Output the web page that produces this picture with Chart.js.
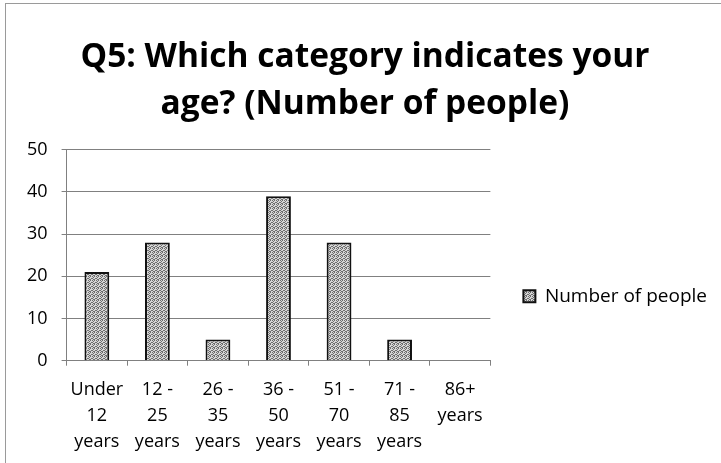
<!DOCTYPE html>
<html>
<head>
<meta charset="utf-8">
<script src="https://cdn.jsdelivr.net/npm/chart.js@4.4.0/dist/chart.umd.min.js"></script>
<style>
  html, body { margin: 0; padding: 0; background: #fff; }
  #wrap { position: absolute; left: 0; top: 0; width: 721px; height: 463px; overflow: hidden; }
  #frame { position: absolute; left: 5px; top: 3px; width: 730px; height: 470px;
           border-left: 1px solid #9a9a9a; border-top: 1px solid #9a9a9a; }
  canvas { position: absolute; left: 0; top: 0; }
</style>
</head>
<body>
<div id="wrap">
  <div id="frame"></div>
  <canvas id="ageChart" width="721" height="463"></canvas>
</div>
<script>
const categories = [
    ['Under', '12', 'years'],
    ['12 -', '25', 'years'],
    ['26 -', '35', 'years'],
    ['36 -', '50', 'years'],
    ['51 -', '70', 'years'],
    ['71 -', '85', 'years'],
    ['86+', 'years']
];
const peopleCounts = [21, 28, 5, 39, 28, 5, 0];
const seriesName = 'Number of people';
const titleLines = ['Q5: Which category indicates your', 'age? (Number of people)'];

const FONT = "'Open Sans', sans-serif";

// stippled grey fill like the old Excel pattern
function makeStipple() {
    const c = document.createElement('canvas');
    c.width = 4;
    c.height = 4;
    const g = c.getContext('2d');
    g.fillStyle = '#d6d6d6';
    g.fillRect(0, 0, 4, 4);
    g.fillStyle = '#6e6e6e';
    [[0, 0], [2, 0], [1, 1], [3, 2], [0, 2], [2, 3], [1, 3]].forEach(([x, y]) => g.fillRect(x, y, 1, 1));
    return g.createPattern(c, 'repeat');
}
const stipple = makeStipple();

new Chart(document.getElementById('ageChart'), {
    type: 'bar',
    data: {
        labels: categories,
        datasets: [{
            label: seriesName,
            data: peopleCounts,
            backgroundColor: stipple,
            borderColor: '#111',
            borderWidth: 2,
            barPercentage: 0.41,
            categoryPercentage: 1
        }]
    },
    options: {
        responsive: false,
        animation: false,
        layout: { padding: { left: 13, right: 4, top: 0, bottom: -3 } },
        scales: {
            x: {
                grid: {
                    display: true,
                    drawOnChartArea: false,
                    drawTicks: true,
                    tickLength: 5,
                    color: '#808080'
                },
                border: { color: '#808080', width: 1 },
                ticks: {
                    color: '#000',
                    padding: 11,
                    maxRotation: 0,
                    autoSkip: false,
                    font: { family: FONT, size: 18, lineHeight: 1.45 }
                }
            },
            y: {
                min: 0,
                max: 50,
                ticks: {
                    stepSize: 10,
                    color: '#000',
                    padding: 14,
                    font: { family: FONT, size: 18 }
                },
                grid: { color: '#808080', tickLength: 5, lineWidth: 1 },
                border: { color: '#808080', width: 1 }
            }
        },
        plugins: {
            title: {
                display: true,
                text: titleLines,
                color: '#000',
                font: { family: FONT, size: 33.5, weight: 'bold', lineHeight: 1.4 },
                padding: { top: 34, bottom: 22 }
            },
            legend: {
                position: 'right',
                align: 'center',
                maxWidth: 240,
                title: { display: true, text: ' ', padding: { top: 112, bottom: 0 } },
                labels: {
                    color: '#000',
                    boxWidth: 12,
                    boxHeight: 12,
                    padding: 33,
                    font: { family: FONT, size: 19 }
                }
            },
            tooltip: { enabled: false }
        }
    }
});
</script>
</body>
</html>
